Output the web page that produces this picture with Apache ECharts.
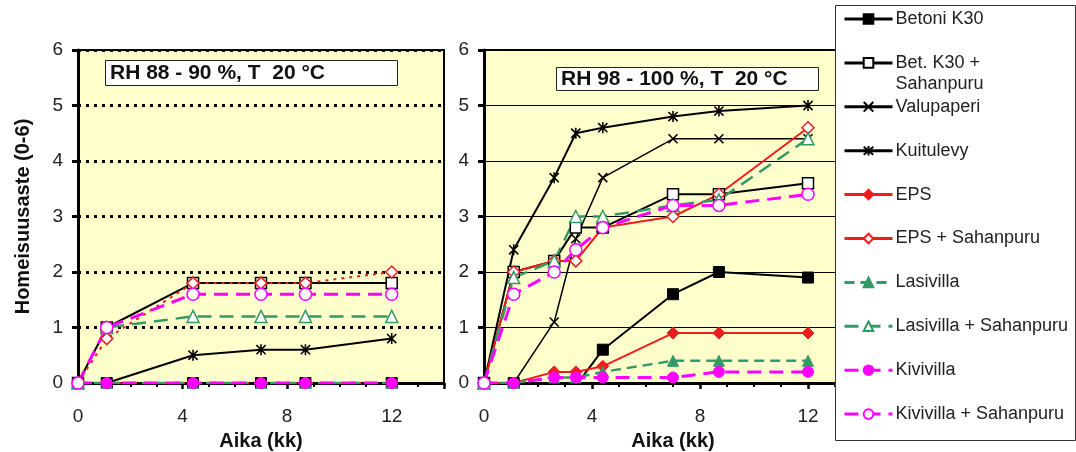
<!DOCTYPE html>
<html>
<head>
<meta charset="utf-8">
<script src="https://cdn.jsdelivr.net/npm/echarts@6/dist/echarts.min.js"></script>
<style>html,body{margin:0;padding:0;background:#fff;}#c{width:1076px;height:452px;}</style>
</head>
<body>
<div id="c"></div>
<script>
// ---- data ----
var seriesNames = ['Betoni K30', 'Bet. K30 +\nSahanpuru', 'Valupaperi', 'Kuitulevy', 'EPS', 'EPS + Sahanpuru', 'Lasivilla', 'Lasivilla + Sahanpuru', 'Kivivilla', 'Kivivilla + Sahanpuru'];
var xTicks = [0, 4, 8, 12];
// Left panel: RH 88 - 90 %
var xLeft = [0, 1.1, 4.4, 7, 8.7, 12];
var leftBetoni      = [0, 0, 0, 0, 0, 0];
var leftBetSah      = [0, 1.0, 1.8, 1.8, 1.8, 1.8];
var leftValupaperi  = [0, 0, 0, 0, 0, 0];
var leftKuitulevy   = [0, 0, 0.5, 0.6, 0.6, 0.8];
var leftEPS         = [0, 0, 0, 0, 0, 0];
var leftEPSSah      = [0, 0.8, 1.8, 1.8, 1.8, 2.0];
var leftLasi        = [0, 0, 0, 0, 0, 0];
var leftLasiSah     = [0, 1.0, 1.2, 1.2, 1.2, 1.2];
var leftKivi        = [0, 0, 0, 0, 0, 0];
var leftKiviSah     = [0, 1.0, 1.6, 1.6, 1.6, 1.6];
// Right panel: RH 98 - 100 %
var xRight = [0, 1.1, 2.6, 3.4, 4.4, 7, 8.7, 12];
var rightBetoni     = [0, 0, -0.05, -0.05, 0.6, 1.6, 2.0, 1.9];
var rightBetSah     = [0, 2.0, 2.2, 2.8, 2.8, 3.4, 3.4, 3.6];
var rightValupaperi = [0, 0, 1.1, 2.6, 3.7, 4.4, 4.4, 4.4];
var rightKuitulevy  = [0, 2.4, 3.7, 4.5, 4.6, 4.8, 4.9, 5.0];
var rightEPS        = [0, 0, 0.2, 0.2, 0.3, 0.9, 0.9, 0.9];
var rightEPSSah     = [0, 2.0, 2.2, 2.2, 2.8, 3.0, 3.4, 4.6];
var rightLasi       = [0, 0, 0.1, 0.1, 0.2, 0.4, 0.4, 0.4];
var rightLasiSah    = [0, 1.9, 2.2, 3.0, 3.0, 3.2, 3.3, 4.4];
var rightKivi       = [0, 0, 0.1, 0.1, 0.1, 0.1, 0.2, 0.2];
var rightKiviSah    = [0, 1.6, 2.0, 2.4, 2.8, 3.2, 3.2, 3.4];

var BLACK = '#000000', RED = '#ee1d1d', GREEN = '#339966', MAG = '#ff00ff';
var X_PATH = 'path://M0,0L10,10M10,0L0,10';
var AST_PATH = 'path://M0,1L10,11M10,1L0,11M5,0L5,12';

// style per series: [color, symbol, open, lineType, lineWidth, symbolSize]
var styles = [
  [BLACK, 'rect', false, 'solid', 2, 11],
  [BLACK, 'rect', true, 'solid', 2, 11],
  [BLACK, X_PATH, false, 'solid', 1.5, 9],
  [BLACK, AST_PATH, false, 'solid', 2, 11],
  [RED, 'diamond', false, 'solid', 2, 12],
  [RED, 'diamond', true, 'solid', 2, 12],
  [GREEN, 'triangle', false, [10, 6], 2.5, 11],
  [GREEN, 'triangle', true, [14, 8], 2.5, 12],
  [MAG, 'circle', false, [14, 8], 3, 11],
  [MAG, 'circle', true, [14, 8], 3, 12]
];

function pairs(xs, ys) { return xs.map(function (x, i) { return [x, ys[i]]; }); }

function mk(idx, xs, ys, gi, overrideType) {
  var s = styles[idx];
  var isPath = typeof s[1] === 'string' && s[1].indexOf('path://') === 0;
  var itemStyle;
  if (isPath) itemStyle = { color: s[0], borderColor: s[0], borderWidth: 1.6 };
  else if (s[2]) itemStyle = { color: '#ffffff', borderColor: s[0], borderWidth: 1.5 };
  else itemStyle = { color: s[0], borderColor: s[0], borderWidth: 1 };
  return {
    name: seriesNames[idx],
    type: 'line',
    xAxisIndex: gi, yAxisIndex: gi,
    data: pairs(xs, ys),
    symbol: s[1], symbolSize: s[5], showSymbol: true,
    symbolKeepAspect: true,
    itemStyle: itemStyle,
    lineStyle: { color: s[0], width: s[4], type: overrideType || s[3] },
    animation: false,
    z: 3
  };
}

var rightData = [rightBetoni, rightBetSah, rightValupaperi, rightKuitulevy, rightEPS, rightEPSSah, rightLasi, rightLasiSah, rightKivi, rightKiviSah];
var leftData = [leftBetoni, leftBetSah, leftValupaperi, leftKuitulevy, leftEPS, leftEPSSah, leftLasi, leftLasiSah, leftKivi, leftKiviSah];
var series = [];
rightData.forEach(function (d, i) { series.push(mk(i, xRight, d, 1)); });
leftData.forEach(function (d, i) {
  var ov = (i === 4 || i === 5) ? [3, 5] : null;
  series.push(mk(i, xLeft, d, 0, ov));
});

var FONT = 'Liberation Sans, Arial, sans-serif';

function xAxis(gi) {
  return {
    gridIndex: gi, type: 'value', min: 0, max: 14, interval: 4,
    name: 'Aika (kk)', nameLocation: 'middle', nameGap: 48,
    nameTextStyle: { fontFamily: FONT, fontSize: 20, fontWeight: 'bold', color: '#111' },
    axisLine: { show: true, onZero: false, lineStyle: { color: '#000', width: 3 } },
    axisTick: { show: true, length: 6, lineStyle: { color: '#000', width: 2.5 } },
    minorTick: { show: true, splitNumber: 4, length: 4, lineStyle: { color: '#000', width: 2 } },
    axisLabel: {
      fontFamily: FONT, fontSize: 19, color: '#222', margin: 24,
      formatter: function (v) { return xTicks.indexOf(v) >= 0 ? String(v) : ''; }
    },
    splitLine: { show: false }
  };
}
function yAxis(gi, dotted) {
  return {
    gridIndex: gi, type: 'value', min: 0, max: 6, interval: 1,
    name: gi === 0 ? 'Homeisuusaste (0-6)' : '', nameLocation: 'middle', nameGap: 45,
    nameTextStyle: { fontFamily: FONT, fontSize: 20, fontWeight: 'bold', color: '#111' },
    axisLine: { show: true, lineStyle: { color: '#000', width: 3 } },
    axisTick: { show: true, length: 6, lineStyle: { color: '#000', width: 3 } },
    axisLabel: { fontFamily: FONT, fontSize: 19, color: '#222', margin: 15 },
    splitLine: dotted ? { show: true, lineStyle: { color: '#000', width: 3, type: [3, 5] } }
                      : { show: true, lineStyle: { color: '#000', width: 1, type: 'solid' } }
  };
}

// one legend component per entry so the two-line entry keeps the even spacing
var legends = seriesNames.map(function (n, i) {
  var c = 19 + 43.9 * i;
  var multi = n.indexOf('\n') >= 0;
  return {
    z: 60,
    orient: 'vertical', left: 843, top: multi ? c - 31.5 : c - 10.5, padding: 0,
    itemWidth: 48, itemHeight: 12,
    data: [n],
    selectedMode: false,
    lineStyle: { width: 3 },
    formatter: multi ? function (name) { return ' \n' + name; } : null,
    textStyle: { fontFamily: FONT, fontSize: 18, color: '#222', lineHeight: 21, padding: [0, 0, 0, -2] }
  };
});

var option = {
  animation: false,
  backgroundColor: '#ffffff',
  textStyle: { fontFamily: FONT },
  title: [
    { text: 'RH 88 - 90 %, T  20 °C', left: 105, top: 60, padding: [3, 6, 2, 5],
      backgroundColor: '#ffffff', borderColor: '#222', borderWidth: 1,
      textStyle: { fontFamily: FONT, fontSize: 21, fontWeight: 'bold', color: '#111', width: 282, lineHeight: 21 } },
    { text: 'RH 98 - 100 %, T  20 °C', left: 556, top: 67, padding: [2, 6, 1, 5],
      backgroundColor: '#ffffff', borderColor: '#222', borderWidth: 1,
      textStyle: { fontFamily: FONT, fontSize: 21, fontWeight: 'bold', color: '#111', width: 252, lineHeight: 21 } }
  ],
  grid: [
    { left: 78, top: 50, width: 366, height: 333, show: true, backgroundColor: '#ffffcc', borderColor: '#000', borderWidth: 2, containLabel: false, outerBoundsMode: 'none' },
    { left: 484, top: 50, width: 378, height: 333, show: true, backgroundColor: '#ffffcc', borderColor: '#000', borderWidth: 2, containLabel: false, outerBoundsMode: 'none' }
  ],
  xAxis: [xAxis(0), xAxis(1)],
  yAxis: [yAxis(0, true), yAxis(1, false)],
  graphic: [
    { type: 'rect', z: 50, shape: { x: 835.5, y: 5.5, width: 240, height: 435 }, style: { fill: '#ffffff', stroke: '#333', lineWidth: 1 } }
  ],
  legend: legends,
  series: series
};

var chart = echarts.init(document.getElementById('c'), null, { renderer: 'canvas' });
chart.setOption(option);
</script>
</body>
</html>
